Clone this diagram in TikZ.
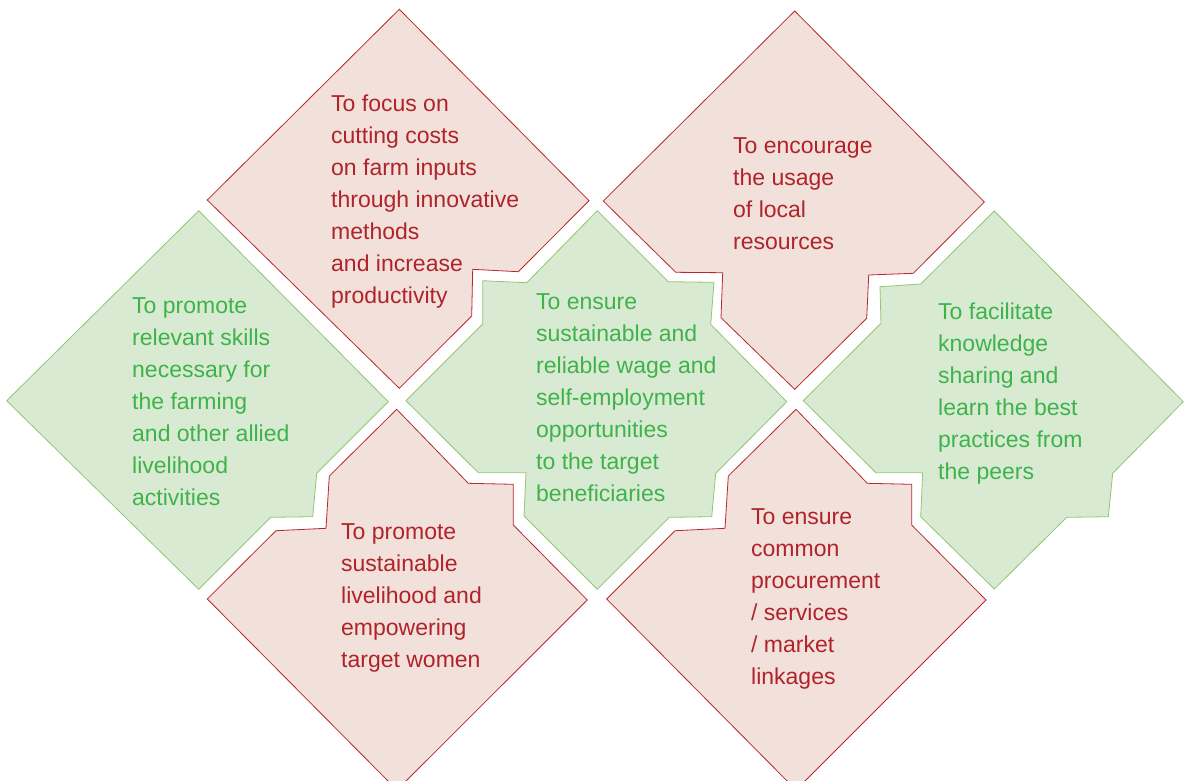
\documentclass[tikz,border=0pt]{standalone}
\usepackage{fontspec}
\setmainfont{Liberation Sans}
\definecolor{pinkfill}{HTML}{F2E1DA}
\definecolor{pinkline}{HTML}{B5282F}
\definecolor{pinktext}{HTML}{B0232A}
\definecolor{greenfill}{HTML}{D9EAD3}
\definecolor{greenline}{HTML}{93C572}
\definecolor{greentext}{HTML}{3DB34A}
\begin{document}
\begin{tikzpicture}[x=1pt,y=-1pt,
  pinkshape/.style={fill=pinkfill,draw=pinkline,line width=0.8pt},
  greenshape/.style={fill=greenfill,draw=greenline,line width=0.8pt},
  boxtext/.style={anchor=base west,align=left,inner sep=0pt,font=\fontsize{23}{32}\selectfont},
  redtext/.style={boxtext,text=pinktext},
  grntext/.style={boxtext,text=greentext}]
\useasboundingbox (0,0) rectangle (1186,780);
\begin{scope}
\clip (0,0) rectangle (1186,780);
% top-left pink
\draw[pinkshape] (399.3,9.3) -- (589,200.7) -- (518.3,271.7) -- (472.7,269.3) -- (471.7,316) -- (399.3,388.3) -- (207.3,200) -- cycle;
% top-right pink
\draw[pinkshape] (794.7,11) -- (984.3,202) -- (913.3,273.3) -- (868.7,275) -- (866.7,318.3) -- (794.7,389.3) -- (721,317.7) -- (722.7,272.7) -- (675.7,272.3) -- (603.3,201) -- cycle;
% left green
\draw[greenshape] (198.7,210.7) -- (388.3,401.7) -- (316.7,473.3) -- (312.7,516.7) -- (270.7,517.3) -- (198.7,589.3) -- (6.7,400.7) -- cycle;
% centre green
\draw[greenshape] (597.3,210.7) -- (668.3,281.7) -- (714,282.3) -- (710.7,324.3) -- (786.7,401.7) -- (715.7,473.3) -- (711.7,516.7) -- (669.3,517.3) -- (597.3,589.3) -- (524,516) -- (526,472.7) -- (478.3,472.7) -- (406,400.7) -- (482.7,324) -- (482.7,280.7) -- (526.7,282.7) -- cycle;
% right green
\draw[greenshape] (994.3,211) -- (1183.3,401.7) -- (1112.7,473.3) -- (1108.3,516.7) -- (1066.7,517.3) -- (994.3,589) -- (920.7,516.7) -- (922.7,472.7) -- (876,472.7) -- (803.3,400.7) -- (881,323.3) -- (880,286.7) -- (920.7,284) -- cycle;
% bottom-left pink
\draw[pinkshape] (396.7,409.3) -- (468.3,483.3) -- (513.3,484.3) -- (513.3,525) -- (587.3,600) -- (397,790) -- (207.3,599) -- (276,530.7) -- (326,528.3) -- (329.3,476) -- cycle;
% bottom-right pink
\draw[pinkshape] (796,409.3) -- (867.3,483.3) -- (911.7,484.3) -- (911.7,525) -- (986,600) -- (796,790) -- (606.7,599) -- (675,530.7) -- (725,528.3) -- (728.3,476) -- cycle;
\end{scope}
% anchors are the baselines of the last lines
\node[redtext] (focus) at (331,303.5) {To focus on\\cutting costs\\on farm inputs\\through innovative\\methods\\and increase\\productivity};
\node[redtext] (encourage) at (733,249.5) {To encourage\\the usage\\of local\\resources};
\node[grntext] (skills) at (132,505.5) {To promote\\relevant skills\\necessary for\\the farming\\and other allied\\livelihood\\activities};
\node[grntext] (wage) at (536,501.5) {To ensure\\sustainable and\\reliable wage and\\self-employment\\opportunities\\to the target\\beneficiaries};
\node[grntext] (knowledge) at (938,479) {To facilitate\\knowledge\\sharing and\\learn the best\\practices from\\the peers};
\node[redtext] (women) at (341,667) {To promote\\sustainable\\livelihood and\\empowering\\target women};
\node[redtext] (procure) at (751,684) {To ensure\\common\\procurement\\/ services\\/ market\\linkages};
\end{tikzpicture}
\end{document}
